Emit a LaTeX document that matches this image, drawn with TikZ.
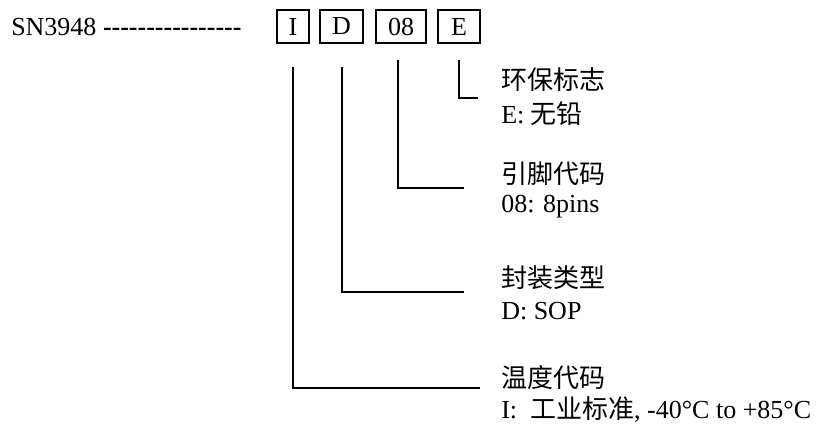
\documentclass[tikz,border=0pt]{standalone}
\usepackage{fontspec}
\setmainfont{Liberation Serif}[Ligatures=TeXOff]
\newfontfamily\cjk{Noto Sans CJK SC}
\begin{document}
\begin{tikzpicture}[x=0.75pt,y=-0.75pt,
  codebox/.style={draw, line width=1pt, inner sep=0pt, minimum height=24.75pt, font=\fontsize{19.5}{22}\selectfont},
  lbl/.style={anchor=west, inner sep=0pt, font=\fontsize{19.5}{22}\selectfont},
  conn/.style={line width=1pt}]
\useasboundingbox (0,0) rectangle (824,424);
\node[lbl, anchor=base west] (sn) at (11,36) {SN3948 \textbf{----------------}};
\node[codebox, minimum width=24pt] (bI) at (293,26.5) {I};
\node[codebox, minimum width=32.25pt] (bD) at (341.5,26.5) {D};
\node[codebox, minimum width=37.5pt] (b08) at (401,26.5) {08};
\node[codebox, minimum width=31.5pt] (bE) at (459,26.5) {E};
% labels
\node[lbl] (tE) at (501,80) {\cjk 环保标志};
\node[lbl] (sE) at (501,114) {E: {\cjk 无铅}};
\node[lbl] (t08) at (501,174) {\cjk 引脚代码};
\node[lbl] (s08) at (501,207) {08: 8pins};
\node[lbl] (tD) at (501,278) {\cjk 封装类型};
\node[lbl] (sD) at (501,311) {D: SOP};
\node[lbl] (tI) at (501,378) {\cjk 温度代码};
\node[lbl] (sI) at (501,410) {I:\ \ {\cjk 工业标准}, -40°C to +85°C};
% connector ends
\coordinate (cEt) at (459,60);
\coordinate (cEe) at (478,98);
\coordinate (c08t) at (398,60);
\coordinate (c08e) at (464,188);
\coordinate (cDt) at (342,67);
\coordinate (cDe) at (464,292);
\coordinate (cIt) at (293,67);
\coordinate (cIe) at (480,388);
\draw[conn] (cEt) |- (cEe);
\draw[conn] (c08t) |- (c08e);
\draw[conn] (cDt) |- (cDe);
\draw[conn] (cIt) |- (cIe);
\end{tikzpicture}
\end{document}
